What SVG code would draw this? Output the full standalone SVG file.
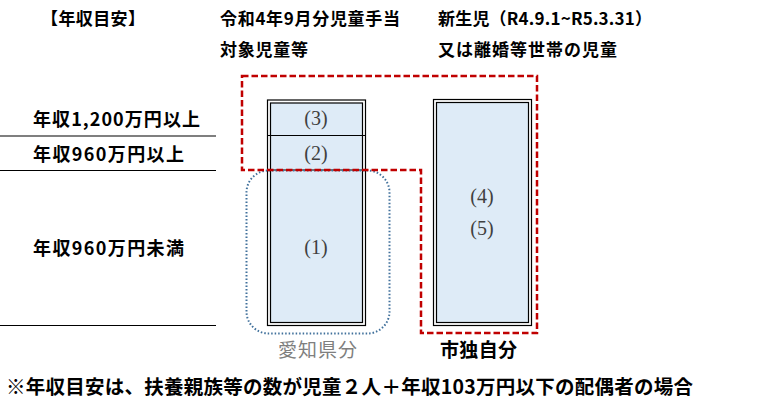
<svg xmlns="http://www.w3.org/2000/svg" width="763" height="408" viewBox="0 0 763 408">
<style>
text{font-family:"Noto Sans CJK JP","Noto Sans",sans-serif;dominant-baseline:central;fill:#000}
.h{font-size:17px;font-weight:bold}
.row{font-size:18px;font-weight:bold}
.num{font-family:"Liberation Serif","Noto Sans CJK JP",serif;font-size:20px;fill:#404040;text-anchor:middle}
.outer{fill:#fff;stroke:#000;stroke-width:1.2}
.inner{fill:#deebf7;stroke:#000;stroke-width:1.2}
.rule{stroke:#000;stroke-width:1.2}
</style>
<rect width="763" height="408" fill="#fff"/>
<g id="headers">
<text class="h" x="41" y="17" textLength="104" lengthAdjust="spacing">【年収目安】</text>
<text class="h" x="220" y="17" textLength="180" lengthAdjust="spacing">令和4年9月分児童手当</text>
<text class="h" x="220" y="48" textLength="88" lengthAdjust="spacing">対象児童等</text>
<text class="h" x="438" y="17" textLength="214" lengthAdjust="spacing">新生児（R4.9.1~R5.3.31）</text>
<text class="h" x="438" y="48" textLength="179" lengthAdjust="spacing">又は離婚等世帯の児童</text>
</g>
<g id="income-rows">
<line class="rule" x1="0" y1="136" x2="216" y2="136"/>
<line class="rule" x1="0" y1="170.5" x2="216" y2="170.5"/>
<line class="rule" x1="0" y1="325.5" x2="216" y2="325.5"/>
<text class="row" x="33" y="118" textLength="167" lengthAdjust="spacing">年収1,200万円以上</text>
<text class="row" x="33" y="153" textLength="151" lengthAdjust="spacing">年収960万円以上</text>
<text class="row" x="33" y="247" textLength="151" lengthAdjust="spacing">年収960万円未満</text>
</g>
<g id="bar-aichi">
<rect class="outer" x="267.5" y="100" width="98" height="225.5"/>
<rect class="inner" x="270.5" y="103" width="92" height="219.5"/>
<line class="rule" x1="268" y1="135.5" x2="365" y2="135.5"/>
<line class="rule" x1="268" y1="170" x2="365" y2="170"/>
<text class="num" x="316" y="118">(3)</text>
<text class="num" x="316" y="153">(2)</text>
<text class="num" x="316" y="247">(1)</text>
</g>
<g id="bar-city">
<rect class="outer" x="433.5" y="99.5" width="98" height="226"/>
<rect class="inner" x="436.5" y="102.5" width="92" height="220"/>
<text class="num" x="482" y="196">(4)</text>
<text class="num" x="482" y="228">(5)</text>
</g>
<g id="connectors">
<rect id="aichi-group" x="246.5" y="170.5" width="143" height="163" rx="22" ry="22" fill="none" stroke="#41719c" stroke-width="2" stroke-dasharray="1.5 2"/>
<path id="city-group" d="M242,76 H537 V333 H421 V170 H242 Z" fill="none" stroke="#c00000" stroke-width="2.5" stroke-dasharray="6.5 3"/>
</g>
<g id="group-labels">
<text x="278" y="348" font-size="19" style="fill:#7f7f7f" textLength="79" lengthAdjust="spacing">愛知県分</text>
<text x="440" y="348" font-size="19" font-weight="bold" textLength="77" lengthAdjust="spacing">市独自分</text>
</g>
<g id="footnote">
<text x="6" y="385" font-size="19.5" font-weight="bold" textLength="687" lengthAdjust="spacing">※年収目安は、扶養親族等の数が児童２人＋年収103万円以下の配偶者の場合</text>
</g>
</svg>
